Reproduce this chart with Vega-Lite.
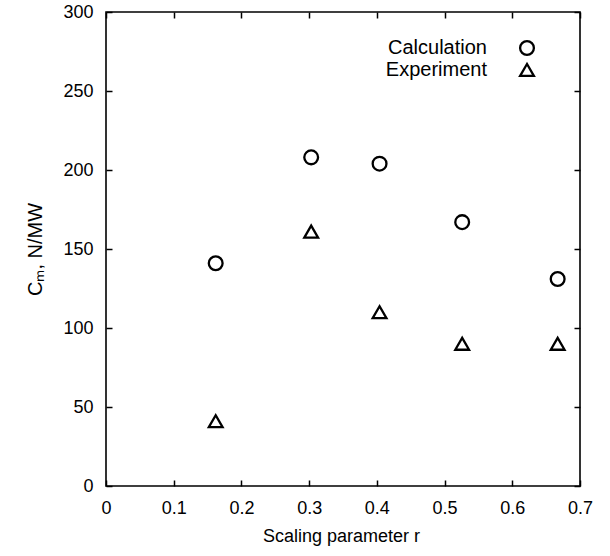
{
  "$schema": "https://vega.github.io/schema/vega-lite/v6.json",
  "width": 474,
  "height": 474,
  "autosize": {"type": "none"},
  "padding": {"left": 106, "top": 12, "right": 30, "bottom": 70},
  "background": "white",
  "config": {
    "view": {"stroke": "black", "strokeWidth": 1.6},
    "font": "Liberation Sans",
    "axis": {
      "domain": false,
      "grid": false,
      "ticks": true,
      "tickColor": "black",
      "tickSize": -6,
      "tickWidth": 1.5,
      "labelFont": "Liberation Sans",
      "labelFontSize": 18,
      "labelColor": "black",
      "labelFlush": false,
      "labelOverlap": false,
      "titleFont": "Liberation Sans",
      "titleFontSize": 18,
      "titleFontWeight": "normal",
      "titleColor": "black"
    }
  },
  "data": {
    "values": [
      {"r": 0.162, "cm": 141, "series": "Calculation"},
      {"r": 0.303, "cm": 208, "series": "Calculation"},
      {"r": 0.404, "cm": 204, "series": "Calculation"},
      {"r": 0.526, "cm": 167, "series": "Calculation"},
      {"r": 0.667, "cm": 131, "series": "Calculation"},
      {"r": 0.162, "cm": 41, "series": "Experiment"},
      {"r": 0.303, "cm": 161, "series": "Experiment"},
      {"r": 0.404, "cm": 110, "series": "Experiment"},
      {"r": 0.526, "cm": 90, "series": "Experiment"},
      {"r": 0.667, "cm": 90, "series": "Experiment"}
    ]
  },
  "layer": [
    {
      "mark": {"type": "point", "filled": false, "strokeWidth": 2.3, "size": 190, "color": "black", "opacity": 1},
      "encoding": {
        "x": {
          "field": "r", "type": "quantitative",
          "scale": {"domain": [0, 0.7], "nice": false, "zero": false},
          "axis": {
            "orient": "bottom",
            "values": [0, 0.1, 0.2, 0.3, 0.4, 0.5, 0.6, 0.7],
            "format": "~g",
            "labelPadding": 19,
            "title": "Scaling parameter r",
            "titleX": 235,
            "titleY": 50,
            "titleBaseline": "middle"
          }
        },
        "y": {
          "field": "cm", "type": "quantitative",
          "scale": {"domain": [0, 300], "nice": false},
          "axis": {
            "orient": "left",
            "values": [0, 50, 100, 150, 200, 250, 300],
            "labelPadding": 19,
            "title": "Cₘ, N/MW",
            "titleFontSize": 20,
            "titleX": -71,
            "titleY": 237,
            "titleAngle": -90,
            "titleAlign": "center",
            "titleBaseline": "middle"
          }
        },
        "shape": {
          "field": "series", "type": "nominal",
          "scale": {"domain": ["Calculation", "Experiment"], "range": ["circle", "triangle-up"]},
          "legend": {
            "orient": "none",
            "legendX": 411,
            "legendY": 26,
            "title": null,
            "labelAlign": "right",
            "labelOffset": -50,
            "labelFont": "Liberation Sans",
            "labelFontSize": 20,
            "labelColor": "black",
            "labelLimit": 300,
            "symbolSize": 190,
            "symbolStrokeWidth": 2.3,
            "symbolStrokeColor": "black",
            "symbolFillColor": "transparent",
            "rowPadding": -1,
            "padding": 0
          }
        }
      }
    },
    {
      "mark": {"type": "point", "opacity": 0},
      "encoding": {
        "x": {
          "field": "r", "type": "quantitative",
          "scale": {"domain": [0, 0.7], "nice": false, "zero": false},
          "axis": {"orient": "top", "values": [0, 0.1, 0.2, 0.3, 0.4, 0.5, 0.6, 0.7], "labels": false, "title": null}
        },
        "y": {
          "field": "cm", "type": "quantitative",
          "scale": {"domain": [0, 300], "nice": false},
          "axis": {"orient": "right", "values": [0, 50, 100, 150, 200, 250, 300], "labels": false, "title": null}
        }
      }
    }
  ],
  "resolve": {"axis": {"x": "independent", "y": "independent"}}
}
